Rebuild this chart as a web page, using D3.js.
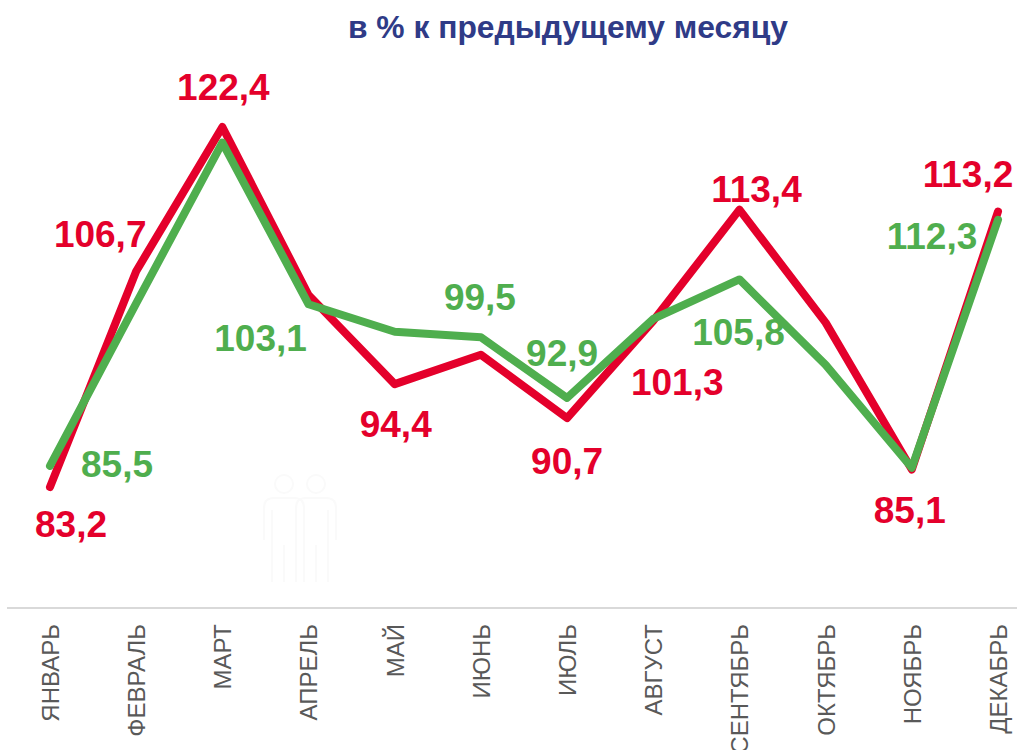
<!DOCTYPE html>
<html>
<head>
<meta charset="utf-8">
<script src="https://cdn.jsdelivr.net/npm/d3@7"></script>
<style>
  body { margin: 0; background: #fff; }
  text { font-family: "Liberation Sans", Arial, sans-serif; }
</style>
</head>
<body>
<svg id="chart"></svg>
<script>
/* donnees */
const months = ['ЯНВАРЬ','ФЕВРАЛЬ','МАРТ','АПРЕЛЬ','МАЙ','ИЮНЬ','ИЮЛЬ','АВГУСТ','СЕНТЯБРЬ','ОКТЯБРЬ','НОЯБРЬ','ДЕКАБРЬ']
const redValues = [83.2,106.7,122.4,104.1,94.4,97.6,90.7,101.3,113.4,101.1,85.1,113.2]
const greenValues = [85.5,103.2,120.7,103.1,100.1,99.5,92.9,101.5,105.8,96.5,85.3,112.3]

/* decalage des etiquettes par rapport au point (null = pas d'etiquette) */
const redOffsets = [[21,50],[-36,-24],[1,-27],null,[1,53],null,[0,56],[24,74],[17,-8],null,[-2,53],[-30,-24]]
const greenOffsets = [[67,11],null,null,[-48,47],null,[-1,-27],[-5,-32],null,[-1,66],null,null,[-66,29]]

const width = 1017, height = 750
const margin = {top: 127, bottom: 608}
const red = '#e4002b', green = '#4fae4e'

const svg = d3.select('#chart').attr('width', width).attr('height', height)
    .style('display', 'block')

const xScale = d3.scalePoint().domain(months).range([50, 998])
const yScale = d3.scaleLinear().domain([83.2, 122.4]).range([487, margin.top])

svg.append('text')
    .attr('x', 568).attr('y', 38)
    .attr('text-anchor', 'middle')
    .attr('font-size', 31.8).attr('font-weight', 'bold')
    .attr('fill', '#2f3b87')
    .text('в % к предыдущему месяцу')

/* pictogramme presque invisible derriere les courbes */
const picto = svg.append('g').attr('fill', 'none').attr('stroke', '#fafafa').attr('stroke-width', 2)
;[284, 316].forEach(cx => {
    picto.append('circle').attr('cx', cx).attr('cy', 484).attr('r', 9)
    picto.append('path').attr('d', `M${cx-20} 540V508Q${cx-20} 498 ${cx-10} 498H${cx+10}Q${cx+20} 498 ${cx+20} 508V540M${cx-12} 510V582M${cx+12} 510V582M${cx} 545V582`)
})

/* axe des x */
const xAxis = d3.axisBottom(xScale).tickSize(0).tickPadding(0)
const axisG = svg.append('g')
    .attr('transform', `translate(0,${margin.bottom})`)
    .call(xAxis)
axisG.select('.domain').remove()
axisG.selectAll('text')
    .attr('transform', 'rotate(-90)')
    .attr('x', -16).attr('y', 0).attr('dy', '0.35em')
    .attr('text-anchor', 'end')
    .attr('font-size', 24)
    .attr('fill', '#595959')

svg.append('line')
    .attr('x1', 7).attr('x2', width)
    .attr('y1', margin.bottom).attr('y2', margin.bottom)
    .attr('stroke', '#d9d9d9').attr('stroke-width', 2)

const line = d3.line()
    .x((d, i) => xScale(months[i]))
    .y(d => yScale(d))

const drawSeries = (values, color) => {
    svg.append('path')
        .datum(values)
        .attr('fill', 'none')
        .attr('stroke', color)
        .attr('stroke-width', 8)
        .attr('stroke-linecap', 'round')
        .attr('stroke-linejoin', 'round')
        .attr('d', line)
}
drawSeries(redValues, red)
drawSeries(greenValues, green)

const drawLabels = (values, offsets, color) => {
    values.forEach((v, i) => {
        if (!offsets[i]) return
        svg.append('text')
            .attr('x', xScale(months[i]) + offsets[i][0])
            .attr('y', yScale(v) + offsets[i][1])
            .attr('text-anchor', 'middle')
            .attr('font-size', 37).attr('font-weight', 'bold')
            .attr('fill', color)
            .text(String(v).replace('.', ','))
    })
}
drawLabels(redValues, redOffsets, red)
drawLabels(greenValues, greenOffsets, green)
</script>
</body>
</html>
